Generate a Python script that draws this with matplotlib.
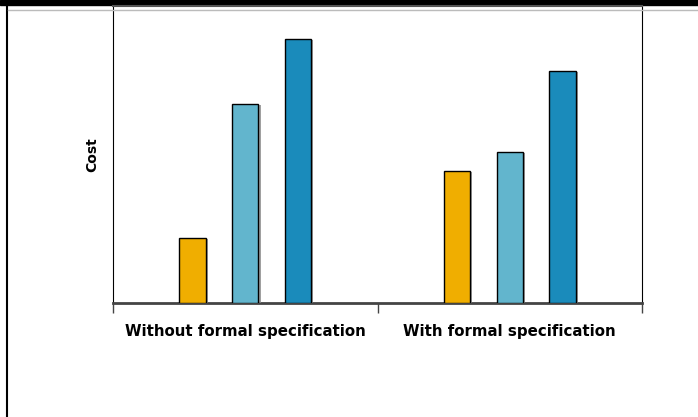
import numpy as np
import matplotlib.pyplot as plt
import matplotlib.patheffects as pe
from matplotlib.lines import Line2D
from matplotlib.patches import Rectangle

categories = ['Without formal specification', 'With formal specification']
series_a = [22, 44.5]   # yellow
series_b = [67, 51]     # light blue
series_c = [89, 78.2]   # blue
colors = ['#F0AE00', '#62B5CD', '#1A8BBB']

fig = plt.figure(figsize=(6.98, 4.17), dpi=100)
ax = fig.add_axes([113 / 698, 1 - 303 / 417, (642 - 113) / 698, (303 - 6) / 417])

x = np.arange(len(categories))
w = 0.1
shadow = [pe.SimplePatchShadow(offset=(1.5, -1), shadow_rgbFace='#888888', alpha=0.8), pe.Normal()]
for i, (vals, c) in enumerate(zip([series_a, series_b, series_c], colors)):
    ax.bar(x + (i - 1) * 0.2, vals, width=w, color=c, edgecolor='black',
           linewidth=1, path_effects=shadow, zorder=3)

ax.set_xlim(-0.5, 1.5)
ax.set_ylim(0, 100)
ax.set_yticks([])
ax.set_xticks(x)
ax.set_xticklabels(categories, fontsize=10.8, fontweight='bold')
ax.set_xticks([-0.5, 0.5, 1.5], minor=True)
ax.tick_params(axis='x', which='major', length=0, pad=15)
ax.tick_params(axis='x', which='minor', length=7, width=1, color='#444444')
ax.set_ylabel('Cost', fontsize=10, fontweight='bold', labelpad=10)

ax.spines['left'].set_color('black')
ax.spines['right'].set_color('black')
ax.spines['top'].set_color('#555555')
ax.spines['top'].set_linewidth(1.5)
ax.spines['bottom'].set_color('#444444')
ax.spines['bottom'].set_linewidth(2)

# slide frame decorations
fig.add_artist(Rectangle((0, 1 - 5 / 417), 1, 5 / 417, transform=fig.transFigure,
                         color='black', zorder=0))
fig.add_artist(Line2D([7.5 / 698, 7.5 / 698], [0, 1 - 5 / 417], transform=fig.transFigure,
                      color='black', lw=1.5))
fig.add_artist(Line2D([8 / 698, 1], [1 - 9.5 / 417, 1 - 9.5 / 417], transform=fig.transFigure,
                      color='#bbbbbb', lw=1))

fig.savefig('out.png', dpi=100)
